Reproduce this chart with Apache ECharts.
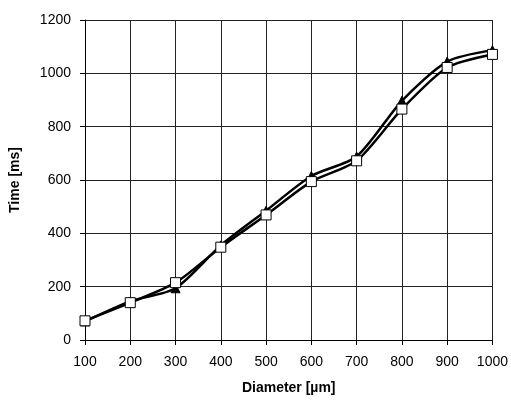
<!DOCTYPE html>
<html>
<head>
<meta charset="utf-8">
<script src="https://cdn.jsdelivr.net/npm/echarts@6/dist/echarts.min.js"></script>
<style>
  html, body { margin: 0; padding: 0; background: #fff; }
  #chart { width: 511px; height: 403px; }
</style>
</head>
<body>
<div id="chart"></div>
<script>
// diameters in µm
const diameters = [100, 200, 300, 400, 500, 600, 700, 800, 900, 1000];
// times in ms
const timeTriangle = [70, 145, 194, 355, 485, 615, 688, 897, 1044, 1087];
const timeSquare = [72, 140, 215, 348, 469, 594, 672, 866, 1022, 1071];

const pairs = (ys) => diameters.map((d, i) => [d, ys[i]]);
const plain = (v) => String(v);

const myChart = echarts.init(document.getElementById('chart'));

const option = {
  backgroundColor: '#fff',
  animation: false,
  grid: { left: 85, right: 18, top: 20, bottom: 63 },
  xAxis: {
    type: 'value',
    min: 100,
    max: 1000,
    interval: 100,
    name: 'Diameter [µm]',
    nameLocation: 'middle',
    nameGap: 41,
    nameTextStyle: { fontFamily: 'Liberation Sans', fontWeight: 'bold', fontSize: 14, color: '#000' },
    axisLine: { lineStyle: { color: '#000', width: 1 } },
    axisTick: { show: true, length: 5, lineStyle: { color: '#000' } },
    axisLabel: { fontFamily: 'Liberation Sans', fontSize: 14, color: '#000', margin: 15, formatter: plain },
    splitLine: { show: true, lineStyle: { color: '#222', width: 1 } }
  },
  yAxis: {
    type: 'value',
    min: 0,
    max: 1200,
    interval: 200,
    name: 'Time [ms]',
    nameLocation: 'middle',
    nameGap: 63,
    nameTextStyle: { fontFamily: 'Liberation Sans', fontWeight: 'bold', fontSize: 14, color: '#000' },
    axisLine: { show: true, lineStyle: { color: '#000', width: 1 } },
    axisTick: { show: true, length: 5, lineStyle: { color: '#000' } },
    axisLabel: { fontFamily: 'Liberation Sans', fontSize: 14, color: '#000', margin: 14, formatter: plain },
    splitLine: { show: true, lineStyle: { color: '#222', width: 1 } }
  },
  series: [
    {
      type: 'line',
      data: pairs(timeTriangle),
      smooth: 0.25,
      symbol: 'triangle',
      symbolSize: 9,
      lineStyle: { color: '#000', width: 2.5 },
      itemStyle: { color: '#000', borderColor: '#000', borderWidth: 1 }
    },
    {
      type: 'line',
      data: pairs(timeSquare),
      smooth: 0.25,
      symbol: 'rect',
      symbolSize: 10,
      lineStyle: { color: '#000', width: 2.5 },
      itemStyle: { color: '#fff', borderColor: '#000', borderWidth: 1 }
    }
  ]
};

myChart.setOption(option);
</script>
</body>
</html>
